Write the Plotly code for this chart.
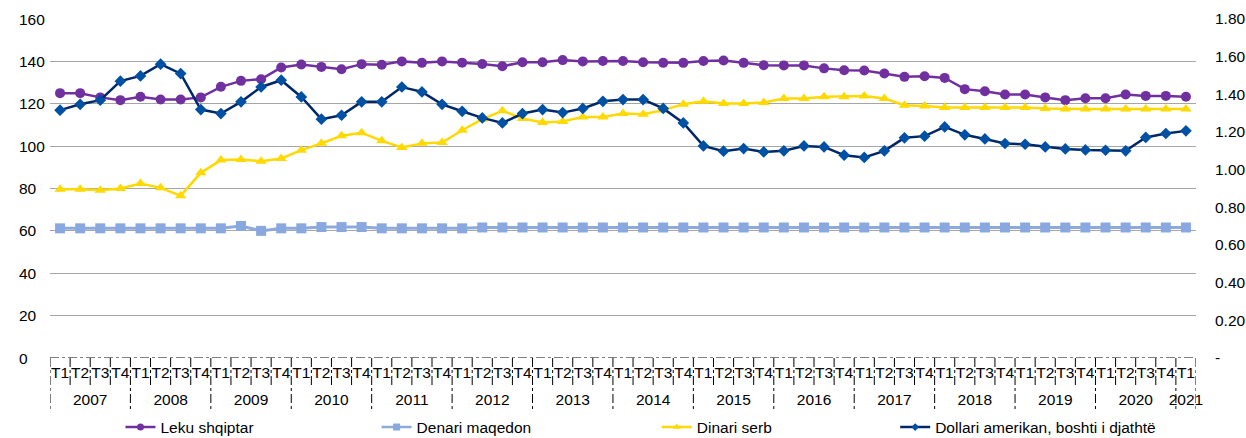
import plotly.graph_objects as go

years = ["2007", "2008", "2009", "2010", "2011", "2012", "2013", "2014",
         "2015", "2016", "2017", "2018", "2019", "2020", "2021"]
quarters = ["T1", "T2", "T3", "T4"]
n_points = 57

leku = [125, 125, 123, 121.7, 123.3, 122, 122, 123, 128, 130.8,
        131.6, 137.1, 138.5, 137.4, 136.3, 138.7, 138.4, 140, 139.3, 140,
        139.4, 138.8, 137.7, 139.6, 139.6, 140.6, 140, 140.2, 140.2, 139.6,
        139.3, 139.3, 140.2, 140.4, 139.3, 138.2, 138.1, 138.1, 136.7, 135.8,
        135.7, 134.3, 132.7, 133, 132.2, 126.9, 125.9, 124.4, 124.4, 123,
        121.7, 122.6, 122.6, 124.4, 123.7, 123.7, 123.3]

denari = [61.2, 61.2, 61.2, 61.2, 61.2, 61.2, 61.2, 61.2, 61.2, 62.3,
          60.0, 61.2, 61.2, 61.8, 61.8, 61.8, 61.2, 61.2, 61.2, 61.2,
          61.2, 61.6, 61.6, 61.6, 61.6, 61.6, 61.6, 61.6, 61.6, 61.6,
          61.6, 61.6, 61.6, 61.6, 61.6, 61.6, 61.6, 61.6, 61.6, 61.6,
          61.6, 61.6, 61.6, 61.6, 61.6, 61.6, 61.6, 61.6, 61.6, 61.6,
          61.6, 61.6, 61.6, 61.6, 61.6, 61.6, 61.6]

dinari = [79.6, 79.6, 79.2, 80, 82.4, 80.3, 76.6, 87.4, 93.4, 93.7,
          92.9, 94.2, 98.1, 101.3, 104.9, 106.3, 102.5, 99.4, 101.3, 101.7,
          107.5, 112.7, 116.7, 113, 111.2, 111.6, 113.8, 113.8, 115.4, 115,
          117, 119.8, 121.2, 120.1, 120.1, 120.6, 122.5, 122.5, 123.3, 123.3,
          123.6, 122.5, 119.3, 118.9, 118.2, 118.2, 118.2, 118.2, 118.2, 117.8,
          117.5, 117.5, 117.5, 117.5, 117.5, 117.5, 117.5]

dollari = [1.316, 1.347, 1.369, 1.47, 1.498, 1.56, 1.51, 1.319, 1.298, 1.36,
           1.439, 1.475, 1.386, 1.268, 1.289, 1.36, 1.36, 1.439, 1.413, 1.347,
           1.31, 1.275, 1.248, 1.298, 1.319, 1.303, 1.325, 1.363, 1.372, 1.372,
           1.325, 1.248, 1.126, 1.098, 1.112, 1.094, 1.1, 1.126, 1.121, 1.077,
           1.065, 1.1, 1.169, 1.178, 1.227, 1.185, 1.163, 1.139, 1.135, 1.121,
           1.11, 1.105, 1.103, 1.1, 1.171, 1.192, 1.206]

left_ticks = [0, 20, 40, 60, 80, 100, 120, 140, 160]
right_ticks = [0, 0.2, 0.4, 0.6, 0.8, 1.0, 1.2, 1.4, 1.6, 1.8]
right_ticktext = ["-", "0.20", "0.40", "0.60", "0.80", "1.00", "1.20", "1.40", "1.60", "1.80"]

series_names = ["Leku shqiptar", "Denari maqedon", "Dinari serb",
                "Dollari amerikan, boshti i djathtë"]

# quarter positions (0..56), labels and year groups
idx = list(range(n_points))
q_labels = [quarters[i % 4] for i in idx]
year_centers, year_labels, year_bounds = [], [], [-0.5]
for k, yname in enumerate(years):
    first = 4 * k
    last = min(4 * k + 3, n_points - 1)
    if first > n_points - 1:
        break
    year_centers.append((first + last) / 2)
    year_labels.append(yname)
    year_bounds.append(last + 0.5)
quarter_bounds = [i - 0.5 for i in range(n_points + 1)]

FONT = "Liberation Sans, Arial, sans-serif"
FS = 15.5
XR = [-0.5, n_points - 0.5]

styles = [
    dict(line=dict(color="#7030A0", width=2.5), symbol="circle", size=10, mcolor="#7030A0", lsize=7, axis="y"),
    dict(line=dict(color="#8EA9DB", width=3), symbol="square", size=10, mcolor="#8AA8E0", lsize=7, axis="y"),
    dict(line=dict(color="#FFD900", width=2.5), symbol="triangle-up", size=10, mcolor="#FFD900", lsize=7, axis="y"),
    dict(line=dict(color="#002868", width=2.5), symbol="diamond", size=9, mcolor="#0050A4", lsize=6, axis="y2"),
]
series_values = [leku, denari, dinari, dollari]
legend_ids = ["legend", "legend2", "legend3", "legend4"]

fig = go.Figure()

for name, vals, st in zip(series_names, series_values, styles):
    fig.add_trace(go.Scatter(
        x=idx, y=vals, name=name, mode="lines+markers",
        line=st["line"],
        marker=dict(symbol=st["symbol"], size=st["size"], color=st["mcolor"]),
        yaxis=st["axis"], showlegend=False))

# legend entries with small markers (as in the reference legend)
for name, st, lid in zip(series_names, styles, legend_ids):
    fig.add_trace(go.Scatter(
        x=[None], y=[None], name=name, mode="lines+markers",
        line=dict(color=st["line"]["color"], width=2.5),
        marker=dict(symbol=st["symbol"], size=st["lsize"], color=st["mcolor"]),
        yaxis=st["axis"], legend=lid, showlegend=True))

# left axis labels (left aligned like the reference)
for v in left_ticks:
    fig.add_annotation(x=0, xref="paper", y=v, yref="y", text=str(v),
                       xanchor="left", yanchor="middle", xshift=-33,
                       showarrow=False, font=dict(family=FONT, size=FS, color="#000"))

AXC = "#000"
# dashed x axis line
fig.add_shape(type="line", xref="paper", yref="y", x0=0, x1=1, y0=0, y1=0,
              line=dict(color=AXC, width=1, dash="dashdot"))
# quarter boundary ticks
for b in quarter_bounds:
    if b in year_bounds:
        continue
    fig.add_shape(type="line", xref="x", yref="paper", x0=b, x1=b, y0=0, y1=-0.085,
                  line=dict(color=AXC, width=1, dash="dashdot"))
# year dividers
for b in year_bounds:
    fig.add_shape(type="line", xref="x", yref="paper", x0=b, x1=b, y0=0, y1=-0.155,
                  line=dict(color=AXC, width=1, dash="dashdot"))

legend_common = dict(orientation="h", yanchor="middle", y=-0.205, xanchor="left",
                     font=dict(family=FONT, size=FS, color="#000"),
                     bgcolor="rgba(0,0,0,0)")
legend_x = [0.0615, 0.2850, 0.5295, 0.7375]

fig.update_layout(
    width=1246, height=438, autosize=False,
    margin=dict(l=50, r=50, t=19, b=80, autoexpand=False),
    paper_bgcolor="white", plot_bgcolor="white",
    font=dict(family=FONT, size=FS, color="#000"),
    showlegend=True,
    legend=dict(x=legend_x[0], **legend_common),
    legend2=dict(x=legend_x[1], **legend_common),
    legend3=dict(x=legend_x[2], **legend_common),
    legend4=dict(x=legend_x[3], **legend_common),
    xaxis=dict(range=XR, tickmode="array", tickvals=idx, ticktext=q_labels,
               tickangle=0, ticks="", showgrid=False, showline=False, zeroline=False,
               ticklabelstandoff=3,
               tickfont=dict(family=FONT, size=FS, color="#000")),
    xaxis2=dict(range=XR, overlaying="x", side="bottom", anchor="y",
                tickmode="array", tickvals=year_centers, ticktext=year_labels,
                tickangle=0, ticks="", showgrid=False, showline=False, zeroline=False,
                ticklabelstandoff=30,
                tickfont=dict(family=FONT, size=FS, color="#000")),
    yaxis=dict(range=[0, 160], tickvals=left_ticks[1:], showticklabels=False,
               showgrid=True, gridcolor="#A6A6A6", gridwidth=1.2,
               zeroline=False, showline=False, ticks=""),
    yaxis2=dict(range=[0, 1.8], overlaying="y", side="right",
                tickvals=right_ticks, ticktext=right_ticktext,
                showgrid=False, zeroline=False, showline=False, ticks="",
                ticklabelstandoff=18,
                tickfont=dict(family=FONT, size=FS, color="#000")),
)

# an invisible trace to register xaxis2 (year labels)
fig.add_trace(go.Scatter(x=[XR[0]], y=[0], xaxis="x2", mode="markers",
                         marker=dict(opacity=0), showlegend=False, hoverinfo="skip"))

fig.write_html("out.html", config={"displayModeBar": False},
               post_script="document.body.style.margin='0';")
